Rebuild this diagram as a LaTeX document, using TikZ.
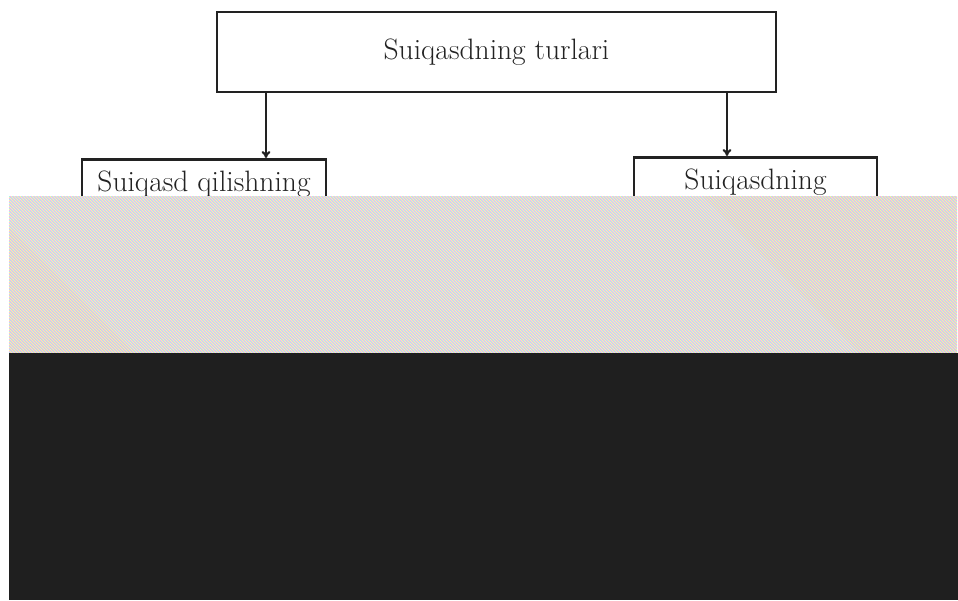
\documentclass[tikz,border=0pt]{standalone}
\usetikzlibrary{arrows.meta,positioning}
\definecolor{ink}{HTML}{222222}
\definecolor{band}{HTML}{1F1F1F}
\definecolor{stripeC}{HTML}{8CF0FA}
\definecolor{stripeM}{HTML}{FA9CF5}
\definecolor{stripeY}{HTML}{F8F59A}
\begin{document}
\begin{tikzpicture}[x=1pt,y=-1pt,
  kind/.style={draw=ink,line width=2.6pt,text=ink,font=\fontsize{29.5}{34}\selectfont},
  arr/.style={draw=ink,line width=2.2pt,-{To[length=7pt,width=9pt]}}]
\useasboundingbox (0,0) rectangle (958,600);
\node[kind,minimum width=559pt,minimum height=80pt] (types) at (496.5,52) {Suiqasdning turlari};
\node[kind,anchor=north,minimum width=244pt,inner ysep=12pt,text depth=60pt] (way) at (204,158) {Suiqasd qilishning};
\node[kind,anchor=north,minimum width=243pt,inner ysep=12pt,text depth=60pt] (stage) at (755.5,156) {Suiqasdning};
\coordinate (in1) at (266,158);
\coordinate (in2) at (727,156);
\draw[arr] (in1 |- types.south) -- (in1);
\draw[arr] (in2 |- types.south) -- (in2);
% striped band over the lower boxes
\begin{scope}
\clip (9,196) rectangle (957,352.5);
\fill[white] (9,196) rectangle (957,352.5);
\foreach \s/\col in {0/stripeC,1/stripeM,2/stripeY}
  \foreach \x in {-162,-159,...,960}
    \draw[\col,line width=0.7pt] (\x+\s,196) -- ++(162,162);
\end{scope}
\fill[band] (9,352.5) rectangle (958,600);
\end{tikzpicture}
\end{document}
